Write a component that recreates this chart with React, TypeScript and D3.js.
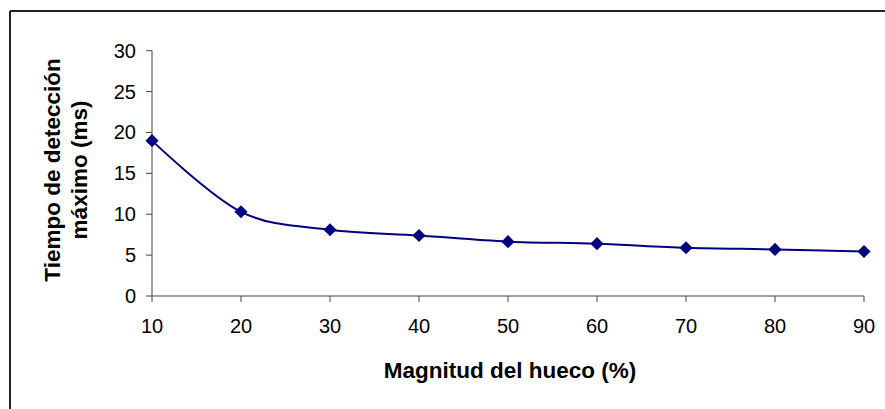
import React from "react";
import * as d3 from "d3";

const magnitudes = [10, 20, 30, 40, 50, 60, 70, 80, 90];
const tiempos = [19.0, 10.3, 8.1, 7.4, 6.65, 6.4, 5.9, 5.7, 5.45];
const yTicks = [0, 5, 10, 15, 20, 25, 30];
const xTicks = [10, 20, 30, 40, 50, 60, 70, 80, 90];
const xTitle = "Magnitud del hueco (%)";
const yTitleLines = ["Tiempo de detección", "máximo (ms)"];

export default function App() {
  const W = 885;
  const H = 409;
  const x = d3.scaleLinear().domain([10, 90]).range([152, 864]);
  const y = d3.scaleLinear().domain([0, 30]).range([296, 50.7]);
  const pts = magnitudes.map((m, i) => [m, tiempos[i]] as [number, number]);
  const line = d3
    .line<[number, number]>()
    .x((d) => x(d[0]))
    .y((d) => y(d[1]))
    .curve(d3.curveCardinal.tension(0));
  const marker = d3.symbol().type(d3.symbolSquare).size(86)();
  const font = "Arial, 'Liberation Sans', sans-serif";
  const axisColor = "#444";
  return (
    <svg
      width={W}
      height={H}
      style={{ position: "absolute", left: 0, top: 0, background: "#fff" }}
      fontFamily={font}
    >
      <rect x={0} y={0} width={W} height={H} fill="#fff" />
      {/* frame */}
      <line x1={10} y1={11} x2={W + 5} y2={11} stroke="#222" strokeWidth={2} />
      <line x1={10} y1={11} x2={10} y2={H + 5} stroke="#222" strokeWidth={2} />

      {/* y axis */}
      <line x1={x(10)} y1={y(0)} x2={x(10)} y2={y(30)} stroke={axisColor} strokeWidth={1} />
      {yTicks.map((t) => (
        <g key={"y" + t}>
          <line x1={x(10) - 6} x2={x(10)} y1={y(t)} y2={y(t)} stroke={axisColor} strokeWidth={1} />
          <text x={136} y={y(t)} dy="0.35em" textAnchor="end" fontSize={20} fill="#000">
            {t}
          </text>
        </g>
      ))}

      {/* x axis */}
      <line x1={x(10)} y1={y(0)} x2={x(90)} y2={y(0)} stroke={axisColor} strokeWidth={1} />
      {xTicks.map((t) => (
        <g key={"x" + t}>
          <line x1={x(t)} x2={x(t)} y1={y(0)} y2={y(0) + 6} stroke={axisColor} strokeWidth={1} />
          <text x={x(t)} y={333} textAnchor="middle" fontSize={20} fill="#000">
            {t}
          </text>
        </g>
      ))}

      {/* series */}
      <path d={line(pts) || ""} fill="none" stroke="#000080" strokeWidth={2} />
      {pts.map((p, i) => (
        <path
          key={"m" + i}
          d={marker || ""}
          transform={`translate(${x(p[0])},${y(p[1])}) rotate(45)`}
          fill="#000080"
        />
      ))}

      {/* titles */}
      <text x={510} y={378} textAnchor="middle" fontSize={22.5} fontWeight="bold" fill="#000">
        {xTitle}
      </text>
      <g transform="translate(0,170) rotate(-90)">
        <text x={0} y={60} textAnchor="middle" fontSize={22.5} fontWeight="bold" fill="#000">
          {yTitleLines[0]}
        </text>
        <text x={0} y={87} textAnchor="middle" fontSize={22.5} fontWeight="bold" fill="#000">
          {yTitleLines[1]}
        </text>
      </g>
    </svg>
  );
}
